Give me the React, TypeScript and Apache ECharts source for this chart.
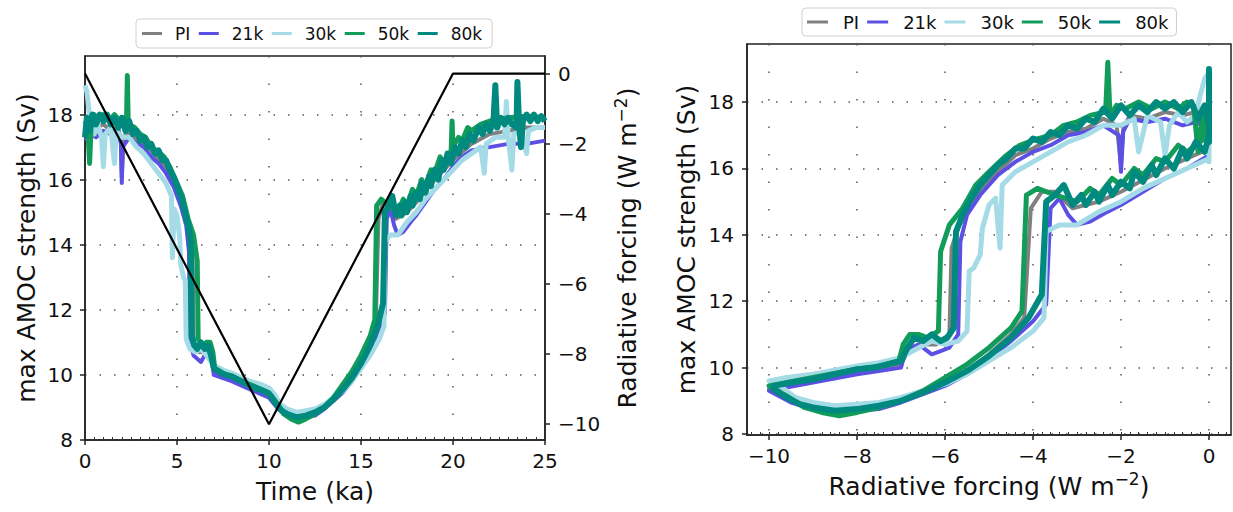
import React, { useEffect, useRef } from 'react';
import * as echarts from 'echarts';

const FONT = 'DejaVu Sans';

const RUN_NAMES = ['PI', '21k', '30k', '50k', '80k'];
const RUN_COLORS = ['#808080', '#5b50e3', '#a5dbe6', '#129c5a', '#00897f'];
const RUN_WIDTHS = [4, 4, 5, 5, 6];

// [time (ka), max AMOC strength (Sv)]
const AMOC_PI: [number, number][] = [
  [0, 17.4], [0.3, 17.7], [0.6, 17.6], [1.0, 17.7], [1.4, 17.5], [1.8, 17.6], [1.95, 17.2], [2.0, 16.1], [2.1, 17.3],
  [2.4, 17.5], [2.8, 17.2], [3.2, 17.1], [3.6, 16.9], [4.0, 16.6], [4.4, 16.4], [4.8, 15.9], [5.2, 15.3], [5.5, 14.8],
  [5.7, 14.2], [5.85, 13.6], [5.9, 11.0], [6.2, 10.7], [6.5, 10.7], [6.8, 10.6], [7.0, 10.1], [7.5, 10.0], [8.0, 9.85],
  [9.0, 9.6], [10.0, 9.35], [10.5, 9.0], [11.0, 8.8], [11.5, 8.7], [12.0, 8.75], [13.0, 9.0], [14.0, 9.55], [14.5, 9.9],
  [15.0, 10.4], [15.5, 11.0], [15.8, 11.5], [15.95, 14.8], [16.2, 15.3], [16.5, 15.3], [16.9, 14.8], [17.5, 15.0],
  [18.0, 15.3], [19.0, 16.0], [20.0, 16.6], [21.0, 17.1], [22.0, 17.4], [23.0, 17.5], [24.0, 17.6], [25, 17.6],
];

const AMOC_21K: [number, number][] = [
  [0, 17.2], [0.3, 17.4], [0.6, 17.3], [1.0, 17.5], [1.4, 17.4], [1.8, 17.5], [1.95, 17.1], [2.0, 15.9], [2.05, 17.0],
  [2.4, 17.3], [2.8, 17.1], [3.2, 17.0], [3.6, 16.7], [4.0, 16.5], [4.4, 16.2], [4.8, 15.8], [5.2, 15.2], [5.5, 14.6],
  [5.65, 13.8], [5.7, 11.0], [5.9, 10.6], [6.1, 10.5], [6.3, 10.4], [6.6, 10.7], [6.9, 10.5], [7.0, 10.0], [7.5, 9.9],
  [8.0, 9.8], [9.0, 9.55], [10.0, 9.3], [10.5, 8.95], [11.0, 8.75], [11.5, 8.65], [12.0, 8.7], [12.5, 8.75], [13.0, 8.95],
  [14.0, 9.45], [14.5, 9.8], [15.0, 10.25], [15.5, 10.8], [16.0, 11.4], [16.3, 11.9], [16.4, 14.8], [16.6, 15.1],
  [16.8, 14.6], [17.0, 14.3], [17.3, 14.4], [17.7, 14.7], [18.0, 14.9], [18.5, 15.3], [19.0, 15.7], [19.5, 16.0],
  [20.0, 16.4], [20.5, 16.7], [21.0, 16.9], [22.0, 17.0], [23.0, 17.1], [24.0, 17.1], [25, 17.2],
];

const AMOC_30K: [number, number][] = [
  [0, 18.9], [0.1, 18.7], [0.2, 18.2], [0.3, 17.6], [0.5, 17.4], [0.7, 17.7], [0.9, 17.3], [1.0, 16.4], [1.1, 17.4],
  [1.4, 17.6], [1.6, 16.5], [1.7, 17.5], [2.0, 17.3], [2.4, 17.3], [2.8, 17.0], [3.2, 16.8], [3.6, 16.5], [4.0, 16.2],
  [4.4, 15.9], [4.7, 15.5], [4.75, 13.6], [4.85, 15.1], [5.0, 14.9], [5.15, 14.2], [5.2, 13.4], [5.35, 13.0],
  [5.45, 12.9], [5.5, 11.1], [5.7, 10.8], [6.0, 10.7], [6.3, 10.8], [6.6, 10.6], [7.0, 10.3], [7.5, 10.15], [8.0, 10.05],
  [9.0, 9.8], [9.6, 9.7], [10.0, 9.6], [10.3, 9.4], [10.6, 9.1], [11.0, 8.95], [11.5, 8.85], [12.0, 8.9], [12.5, 8.95],
  [13.0, 9.1], [14.0, 9.5], [14.5, 9.8], [15.0, 10.2], [15.5, 10.6], [16.0, 11.1], [16.25, 11.5], [16.3, 14.1],
  [16.6, 14.3], [17.0, 14.3], [17.5, 14.7], [18.0, 15.0], [18.5, 15.4], [19.0, 15.7], [19.5, 16.0], [20.0, 16.3],
  [20.5, 16.6], [21.0, 16.8], [21.5, 17.0], [21.7, 16.2], [21.8, 17.1], [22.3, 17.3], [22.8, 17.3], [22.9, 18.4],
  [23.0, 17.3], [23.2, 16.3], [23.3, 17.4], [23.7, 17.5], [24.0, 16.8], [24.1, 17.5], [24.5, 17.6], [25, 17.6],
];

const AMOC_50K: [number, number][] = [
  [0, 17.8], [0.15, 17.6], [0.25, 16.5], [0.35, 17.9], [0.5, 18.0], [0.7, 17.8], [1.0, 18.0], [1.3, 17.8], [1.6, 18.0],
  [1.9, 17.8], [2.1, 17.9], [2.25, 17.6], [2.3, 19.2], [2.35, 17.7], [2.7, 17.6], [3.0, 17.4], [3.3, 17.3], [3.6, 17.0],
  [4.0, 16.85], [4.3, 16.7], [4.6, 16.4], [5.0, 15.9], [5.3, 15.5], [5.6, 14.8], [5.9, 14.3], [6.1, 13.5], [6.15, 11.1],
  [6.4, 10.9], [6.6, 11.0], [6.8, 11.0], [6.95, 10.7], [7.05, 10.2], [7.5, 10.05], [8.0, 9.95], [9.0, 9.7], [10.0, 9.45],
  [10.4, 9.15], [10.8, 8.8], [11.2, 8.65], [11.6, 8.55], [12.0, 8.65], [12.5, 8.8], [13.0, 9.0], [13.5, 9.3], [14.0, 9.7],
  [14.5, 10.1], [15.0, 10.6], [15.5, 11.2], [15.75, 11.7], [15.85, 15.2], [16.1, 15.4], [16.5, 15.2], [17.0, 15.0],
  [17.3, 15.4], [17.5, 15.2], [17.8, 15.7], [18.0, 15.5], [18.3, 16.0], [18.5, 15.8], [18.8, 16.3], [19.0, 16.2],
  [19.3, 16.7], [19.5, 16.5], [19.9, 16.9], [19.95, 17.8], [20.0, 17.0], [20.3, 17.3], [20.5, 17.2], [20.8, 17.6],
  [21.0, 17.5], [21.5, 17.7], [22.0, 17.8], [23.0, 17.9], [24.0, 17.95], [25, 17.9],
];

const AMOC_80K: [number, number][] = [
  [0, 17.3], [0.1, 17.9], [0.25, 17.5], [0.4, 18.0], [0.6, 17.7], [0.8, 18.0], [1.0, 17.8], [1.2, 18.0], [1.4, 17.7],
  [1.6, 17.9], [1.8, 17.6], [2.0, 17.9], [2.2, 17.5], [2.4, 17.8], [2.6, 17.4], [2.8, 17.5], [3.0, 17.2], [3.2, 17.3],
  [3.4, 17.0], [3.6, 17.1], [3.8, 16.8], [4.0, 16.9], [4.2, 16.6], [4.4, 16.6], [4.6, 16.3], [4.8, 16.1], [5.0, 15.8],
  [5.2, 15.5], [5.4, 15.1], [5.6, 14.6], [5.75, 14.1], [5.8, 11.2], [5.95, 10.9], [6.1, 10.8], [6.3, 11.0], [6.5, 10.8],
  [6.7, 10.9], [6.85, 10.6], [7.0, 10.2], [7.3, 10.1], [7.6, 10.0], [8.0, 9.95], [8.5, 9.8], [9.0, 9.65], [9.5, 9.55],
  [9.9, 9.45], [10.1, 9.35], [10.4, 9.1], [10.7, 8.9], [11.0, 8.8], [11.5, 8.7], [12.0, 8.75], [12.5, 8.85], [13.0, 9.0],
  [13.5, 9.25], [14.0, 9.55], [14.5, 9.9], [15.0, 10.35], [15.5, 10.9], [15.9, 11.5], [16.2, 12.2], [16.3, 15.0],
  [16.5, 15.2], [16.7, 15.5], [16.9, 14.9], [17.1, 15.2], [17.2, 14.9], [17.4, 15.3], [17.5, 15.0], [17.7, 15.5],
  [17.8, 15.2], [18.0, 15.6], [18.2, 15.4], [18.3, 15.9], [18.5, 15.6], [18.7, 16.1], [18.8, 15.8], [19.0, 16.3],
  [19.2, 16.0], [19.4, 16.6], [19.5, 16.3], [19.7, 16.8], [19.9, 16.5], [20.1, 17.0], [20.3, 16.8], [20.5, 17.2],
  [20.7, 17.0], [20.9, 17.4], [21.1, 17.2], [21.4, 17.6], [21.6, 17.4], [21.8, 17.7], [22.0, 17.5], [22.2, 17.8],
  [22.3, 18.9], [22.4, 17.6], [22.6, 17.9], [22.8, 17.7], [23.0, 17.9], [23.2, 17.7], [23.45, 17.6], [23.5, 19.0],
  [23.6, 17.6], [23.7, 17.0], [23.8, 17.8], [24.0, 18.0], [24.2, 17.8], [24.4, 18.0], [24.6, 17.8], [24.8, 17.95], [25, 17.8],
];

const RUNS = [AMOC_PI, AMOC_21K, AMOC_30K, AMOC_50K, AMOC_80K];

// radiative forcing ramp (black line): knots of time (ka) and forcing (W m-2)
const FORCING_TIME = [0, 10, 20, 25];
const FORCING_VALUE = [0, -10, 0, 0];

const TIME_TICKS = [0, 5, 10, 15, 20, 25];
const AMOC_TICKS = [8, 10, 12, 14, 16, 18];
const FORCING_TICKS = [-10, -8, -6, -4, -2, 0];

function forcingAt(t: number): number {
  for (let i = 0; i < FORCING_TIME.length - 1; i++) {
    const t0 = FORCING_TIME[i];
    const t1 = FORCING_TIME[i + 1];
    if (t >= t0 && t <= t1) {
      const f = (t - t0) / (t1 - t0);
      return FORCING_VALUE[i] + f * (FORCING_VALUE[i + 1] - FORCING_VALUE[i]);
    }
  }
  return FORCING_VALUE[FORCING_VALUE.length - 1];
}

function minorTicks(start: number, end: number, step: number): number[] {
  const out: number[] = [];
  const n = Math.round((end - start) / step);
  for (let i = 0; i <= n; i++) out.push(Math.round((start + i * step) * 1000) / 1000);
  return out;
}

const minus = (v: number | string) => String(v).replace('-', '\u2212');

const AXIS_COLOR = '#222';
const TEXT_COLOR = '#111';
const NAME_SIZE = 25;
const axisLine = { show: true, onZero: false, lineStyle: { color: AXIS_COLOR, width: 1.5 } };
const labelStyle = { color: TEXT_COLOR, fontSize: 20, fontFamily: FONT };
const nameStyle = {
  color: TEXT_COLOR,
  fontSize: NAME_SIZE,
  fontFamily: FONT,
  overflow: 'none',
  rich: {
    m: { color: TEXT_COLOR, fontSize: NAME_SIZE, fontFamily: FONT, verticalAlign: 'bottom' },
    sup: { color: TEXT_COLOR, fontSize: 17, fontFamily: FONT, verticalAlign: 'bottom', padding: [0, 0, 11, 0] },
  },
};
const gridDotsV = { show: true, lineStyle: { color: '#555', width: 1.5, type: [1.5, 26] } };
const gridDotsH = { show: true, lineStyle: { color: '#555', width: 1.5, type: [1.5, 13] } };

function majorTick(values: number[]) {
  return { show: true, length: 5, customValues: values, lineStyle: { color: AXIS_COLOR, width: 1.5 } };
}

function minorAxis(gridIndex: number, min: number, max: number, values: number[]) {
  return {
    type: 'value',
    gridIndex,
    min,
    max,
    position: 'bottom',
    axisLine: { show: false, onZero: false },
    axisLabel: { show: false },
    splitLine: { show: false },
    axisTick: { show: true, inside: true, length: 3, customValues: values, lineStyle: { color: '#333', width: 1 } },
  };
}

function legend(left: number, top: number, fontSize: number, textPad: number, gap: number, iconW: number, padding: number[]) {
  return {
    data: RUN_NAMES,
    left,
    top,
    orient: 'horizontal',
    icon: 'rect',
    itemWidth: iconW,
    itemHeight: 3,
    itemGap: gap,
    padding,
    borderColor: '#cfcfcf',
    borderWidth: 1,
    borderRadius: 4,
    backgroundColor: 'rgba(255,255,255,0.8)',
    formatter: '{a|{name}}',
    textStyle: {
      color: TEXT_COLOR,
      fontSize,
      fontFamily: FONT,
      rich: { a: { color: TEXT_COLOR, fontSize, fontFamily: FONT, padding: [0, 0, 0, textPad], lineHeight: fontSize + 2 } },
    },
    selectedMode: false,
  };
}

function buildOption() {
  const leftSeries = RUNS.map((run, i) => ({
    name: RUN_NAMES[i],
    type: 'line',
    xAxisIndex: 0,
    yAxisIndex: 0,
    data: run,
    showSymbol: false,
    symbol: 'none',
    lineStyle: { color: RUN_COLORS[i], width: RUN_WIDTHS[i], join: 'round' },
    itemStyle: { color: RUN_COLORS[i] },
    z: 2 + i,
  }));
  const rightSeries = RUNS.map((run, i) => ({
    name: RUN_NAMES[i],
    type: 'line',
    xAxisIndex: 1,
    yAxisIndex: 2,
    data: run.map(([t, v]) => [forcingAt(t), v]),
    showSymbol: false,
    symbol: 'none',
    lineStyle: { color: RUN_COLORS[i], width: RUN_WIDTHS[i], join: 'round' },
    itemStyle: { color: RUN_COLORS[i] },
    z: 2 + i,
  }));
  const forcingSeries = {
    name: 'forcing',
    type: 'line',
    xAxisIndex: 0,
    yAxisIndex: 1,
    data: FORCING_TIME.map((t, i) => [t, FORCING_VALUE[i]]),
    showSymbol: false,
    symbol: 'none',
    lineStyle: { color: '#000', width: 2.2 },
    itemStyle: { color: '#000' },
    z: 10,
  };

  return {
    animation: false,
    backgroundColor: '#fff',
    textStyle: { fontFamily: FONT },
    legend: [
      legend(136, 19, 17, 8, 8.5, 20, [6, 10, 6, 6]),
      legend(802, 8, 18, 10, 8, 21, [5, 8, 5, 5]),
    ],
    grid: [
      { left: 85, top: 56, width: 460, height: 384, show: true, borderColor: AXIS_COLOR, borderWidth: 1.5, backgroundColor: 'transparent' },
      { left: 747, top: 44, width: 484, height: 391, show: true, borderColor: AXIS_COLOR, borderWidth: 1.5, backgroundColor: 'transparent' },
    ],
    xAxis: [
      {
        type: 'value', gridIndex: 0, min: 0, max: 25, position: 'bottom',
        axisLine, axisTick: majorTick(TIME_TICKS),
        axisLabel: { ...labelStyle, margin: 11, customValues: TIME_TICKS },
        splitLine: gridDotsV,
        name: 'Time (ka)', nameLocation: 'middle', nameGap: 39, nameTextStyle: nameStyle,
      },
      {
        type: 'value', gridIndex: 1, min: -10.5, max: 0.5, position: 'bottom',
        axisLine, axisTick: majorTick(FORCING_TICKS),
        axisLabel: { ...labelStyle, margin: 11, customValues: FORCING_TICKS, formatter: (v: number) => minus(v) },
        splitLine: gridDotsV,
        name: '{m|Radiative forcing (W m}{sup|\u22122}{m|)}', nameLocation: 'middle', nameGap: 35, nameTextStyle: nameStyle,
      },
      minorAxis(0, 0, 25, minorTicks(0.5, 24.5, 0.5)),
      minorAxis(1, -10.5, 0.5, minorTicks(-10.4, 0.4, 0.2)),
    ],
    yAxis: [
      {
        type: 'value', gridIndex: 0, min: 8, max: 19.8, position: 'left',
        axisLine, axisTick: majorTick(AMOC_TICKS),
        axisLabel: { ...labelStyle, margin: 12, customValues: AMOC_TICKS },
        splitLine: gridDotsH,
        name: 'max AMOC strength (Sv)', nameLocation: 'middle', nameGap: 46, nameTextStyle: nameStyle,
        nameMoveOverlap: false,
      },
      {
        type: 'value', gridIndex: 0, min: -10.45, max: 0.5, position: 'right',
        axisLine, axisTick: majorTick(FORCING_TICKS),
        axisLabel: { ...labelStyle, margin: 13, customValues: FORCING_TICKS, formatter: (v: number) => minus(v) },
        splitLine: { show: false },
        name: '{m|Radiative forcing (W m}{sup|\u22122}{m|)}', nameLocation: 'middle', nameGap: 67, nameTextStyle: nameStyle,
        nameMoveOverlap: false,
      },
      {
        type: 'value', gridIndex: 1, min: 7.97, max: 19.75, position: 'left',
        axisLine, axisTick: majorTick(AMOC_TICKS),
        axisLabel: { ...labelStyle, margin: 13, customValues: AMOC_TICKS },
        splitLine: gridDotsH,
        name: 'max AMOC strength (Sv)', nameLocation: 'middle', nameGap: 48, nameTextStyle: nameStyle,
        nameMoveOverlap: false,
      },
    ],
    series: [...leftSeries, forcingSeries, ...rightSeries],
  };
}

export default function App() {
  const ref = useRef<HTMLDivElement>(null);
  useEffect(() => {
    if (!ref.current) return;
    const chart = echarts.init(ref.current, null, { renderer: 'svg' });
    chart.setOption(buildOption() as any);
    return () => chart.dispose();
  }, []);
  return (
    <div
      ref={ref}
      style={{ position: 'absolute', left: 0, top: 0, width: 1233, height: 512, background: '#fff' }}
    />
  );
}
